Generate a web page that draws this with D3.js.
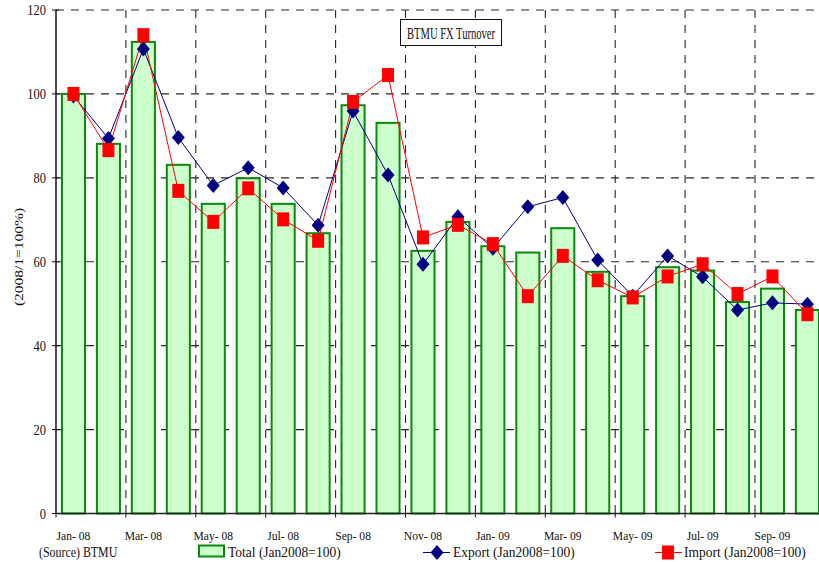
<!DOCTYPE html>
<html>
<head>
<meta charset="utf-8">
<script src="https://cdn.jsdelivr.net/npm/d3@7/dist/d3.min.js"></script>
<style>
  html, body { margin: 0; padding: 0; background: #fff; }
  svg { display: block; }
  text { font-family: "Liberation Serif", "Times New Roman", serif; fill: #111; }
</style>
</head>
<body>
<svg id="chart" width="819" height="562"></svg>
<script>
// Monthly turnover index, Jan 2008 = 100
const months = ["Jan-08","Feb-08","Mar-08","Apr-08","May-08","Jun-08","Jul-08","Aug-08","Sep-08","Oct-08","Nov-08","Dec-08",
                "Jan-09","Feb-09","Mar-09","Apr-09","May-09","Jun-09","Jul-09","Aug-09","Sep-09","Oct-09"];
const monthLabels = ["Jan- 08","Feb- 08","Mar- 08","Apr- 08","May- 08","Jun- 08","Jul- 08","Aug- 08","Sep- 08","Oct- 08","Nov- 08","Dec- 08",
                     "Jan- 09","Feb- 09","Mar- 09","Apr- 09","May- 09","Jun- 09","Jul- 09","Aug- 09","Sep- 09","Oct- 09"];
const totalValues  = [100, 88.1, 112.4, 83.1, 73.8, 79.9, 73.8, 66.8, 97.3, 93.1, 62.6, 69.5,
                      63.7, 62.2, 68.0, 57.6, 51.8, 58.7, 57.9, 50.4, 53.6, 48.5];
const exportValues = [99.5, 89.4, 110.7, 89.6, 78.2, 82.4, 77.6, 68.7, 95.9, 80.7, 59.4, 70.7,
                      63.2, 73.1, 75.3, 60.4, 51.8, 61.4, 56.4, 48.5, 50.2, 49.9];
const importValues = [100, 86.6, 114.0, 76.9, 69.5, 77.5, 70.1, 65.0, 98.1, 104.5, 65.8, 68.8,
                      64.2, 51.8, 61.4, 55.6, 51.5, 56.5, 59.4, 52.3, 56.5, 47.5];
const yTicks = [0, 20, 40, 60, 80, 100, 120];
const seriesNames = ["Total (Jan2008=100)", "Export (Jan2008=100)", "Import (Jan2008=100)"];
const chartTitle = "BTMU FX Turnover";
const sourceNote = "(Source) BTMU";
const yTitle = "(2008/1=100%)";

const svg = d3.select("#chart");
const plotLeft = 56, plotTop = 10, plotBottom = 513.5, step = 34.95;
const plotRight = plotLeft + months.length * step;

const x = d3.scaleBand().domain(months).range([plotLeft, plotRight]).padding(0);
const y = d3.scaleLinear().domain([0, 120]).range([plotBottom, plotTop]);

const GRID = "#262626";
const GREEN = "#0a8a0a", FILL = "#ccffcc", NAVY = "#000080", RED = "#ff0000";

// helper: horizontally condensed serif text
function label(g, str, px, py, size, sx, anchor) {
  return g.append("text")
    .attr("transform", `translate(${px},${py}) scale(${sx},1)`)
    .attr("text-anchor", anchor || "start")
    .style("font-size", size + "px")
    .text(str);
}

// gridlines
const grid = svg.append("g");
grid.selectAll("line.h").data(yTicks.filter(d => d > 0)).join("line")
  .attr("x1", plotLeft).attr("x2", plotRight)
  .attr("y1", d => y(d)).attr("y2", d => y(d))
  .attr("stroke", GRID).attr("stroke-width", 1.1).attr("stroke-dasharray", "8,7");
const evenIdx = months.map((m, i) => i).filter(i => i % 2 === 0 && i > 0);
grid.selectAll("line.v").data(evenIdx).join("line")
  .attr("x1", i => x(months[i])).attr("x2", i => x(months[i]))
  .attr("y1", plotTop).attr("y2", plotBottom)
  .attr("stroke", GRID).attr("stroke-width", 1.1).attr("stroke-dasharray", "8,7");

// bars (Total)
const barW = x.bandwidth() * 0.66;
svg.append("g").selectAll("rect").data(totalValues).join("rect")
  .attr("x", (d, i) => x(months[i]) + (x.bandwidth() - barW) / 2)
  .attr("y", d => y(d))
  .attr("width", barW)
  .attr("height", d => plotBottom - y(d))
  .attr("fill", FILL).attr("stroke", GREEN).attr("stroke-width", 2);

// axes
const axes = svg.append("g");
axes.append("line").attr("x1", plotLeft).attr("x2", plotLeft).attr("y1", plotTop).attr("y2", plotBottom)
  .attr("stroke", "#111").attr("stroke-width", 1.5);
axes.append("line").attr("x1", plotLeft).attr("x2", plotRight).attr("y1", plotBottom).attr("y2", plotBottom)
  .attr("stroke", "#222").attr("stroke-width", 1.5);
axes.selectAll("line.yt").data(yTicks).join("line")
  .attr("x1", plotLeft - 4).attr("x2", plotLeft + 3).attr("y1", d => y(d)).attr("y2", d => y(d))
  .attr("stroke", "#111");
yTicks.forEach(t => label(axes, String(t), plotLeft - 10, y(t) + 5, 14.5, 0.86, "end"));
const tickIdx = months.map((m, i) => i).filter(i => i % 2 === 0);
axes.selectAll("line.xt").data(tickIdx).join("line")
  .attr("x1", i => x(months[i])).attr("x2", i => x(months[i]))
  .attr("y1", plotBottom).attr("y2", plotBottom + 4).attr("stroke", "#111");
tickIdx.forEach(i => label(axes, monthLabels[i], x(months[i]) + x.bandwidth() / 2, 540, 13.5, 0.86, "middle"));

// y axis title
svg.append("text")
  .attr("transform", `translate(23,257) rotate(-90) scale(1,0.86)`)
  .attr("text-anchor", "middle")
  .style("font-size", "15.5px")
  .text(yTitle);

// lines + markers
const cx = i => x(months[i]) + x.bandwidth() / 2;
const lineGen = d3.line().x((d, i) => cx(i)).y(d => y(d));
svg.append("path").datum(exportValues).attr("d", lineGen)
  .attr("fill", "none").attr("stroke", NAVY).attr("stroke-width", 1);
svg.append("path").datum(importValues).attr("d", lineGen)
  .attr("fill", "none").attr("stroke", RED).attr("stroke-width", 1);

const diamond = (px, py) => `M${px},${py - 7.5}L${px + 6.5},${py}L${px},${py + 7.5}L${px - 6.5},${py}Z`;
svg.append("g").selectAll("path").data(exportValues).join("path")
  .attr("d", (d, i) => diamond(cx(i), y(d))).attr("fill", NAVY);
svg.append("g").selectAll("rect").data(importValues).join("rect")
  .attr("x", (d, i) => cx(i) - 6).attr("y", d => y(d) - 7)
  .attr("width", 12).attr("height", 14).attr("fill", RED);

// title box
const tb = svg.append("g");
tb.append("rect").attr("x", 400.5).attr("y", 19.5).attr("width", 101).attr("height", 26)
  .attr("fill", "#fff").attr("stroke", "#111").attr("stroke-width", 1);
label(tb, chartTitle, 451, 38.5, 16, 0.66, "middle");

// legend and source note
const lg = svg.append("g");
label(lg, sourceNote, 39, 557, 14, 0.85, "start");
lg.append("rect").attr("x", 199).attr("y", 545.5).attr("width", 25).attr("height", 11)
  .attr("fill", FILL).attr("stroke", GREEN).attr("stroke-width", 2);
label(lg, seriesNames[0], 228, 557, 14.5, 0.93, "start");
lg.append("line").attr("x1", 423).attr("x2", 450).attr("y1", 552.5).attr("y2", 552.5)
  .attr("stroke", NAVY).attr("stroke-width", 1);
lg.append("path").attr("d", diamond(437, 552.5)).attr("fill", NAVY);
label(lg, seriesNames[1], 453, 557, 14.5, 0.93, "start");
lg.append("line").attr("x1", 655).attr("x2", 682).attr("y1", 552.5).attr("y2", 552.5)
  .attr("stroke", RED).attr("stroke-width", 1);
lg.append("rect").attr("x", 662).attr("y", 545.5).attr("width", 12).attr("height", 14).attr("fill", RED);
label(lg, seriesNames[2], 684, 557, 14.5, 0.93, "start");
</script>
</body>
</html>
